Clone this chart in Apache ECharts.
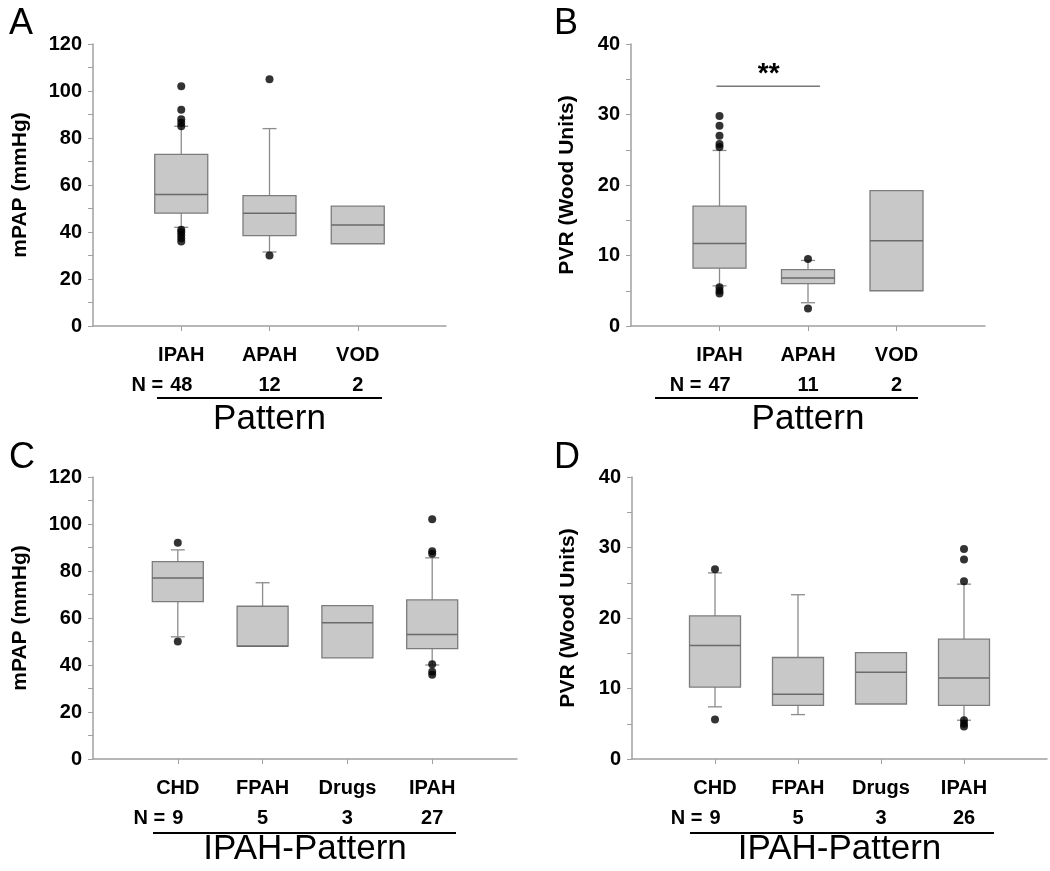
<!DOCTYPE html>
<html>
<head>
<meta charset="utf-8">
<script src="https://cdn.jsdelivr.net/npm/echarts@6/dist/echarts.min.js"></script>
<style>
  html, body { margin: 0; padding: 0; background: #fff; }
  #chart { width: 1050px; height: 871px; }
</style>
</head>
<body>
<div id="chart"></div>
<script>
// box values: [min, Q1, median, Q3, max]
// A: mPAP by pattern
const categoriesA = ['IPAH', 'APAH', 'VOD']
const countsA = [48, 12, 2]
const boxA = [
  [42, 48, 56, 73, 85],
  [31.5, 38.5, 48, 55.5, 84],
  [35, 35, 43, 51, 51]
]
const outliersA = [
  [102, 92, 88, 86.5, 85, 41, 40, 38.7, 37.3, 36],
  [105, 30],
  []
]

// B: PVR by pattern
const categoriesB = ['IPAH', 'APAH', 'VOD']
const countsB = [47, 11, 2]
const boxB = [
  [5.7, 8.2, 11.7, 17.0, 24.9],
  [3.3, 6.0, 6.8, 8.0, 9.3],
  [5.0, 5.0, 12.1, 19.2, 19.2]
]
const outliersB = [
  [29.8, 28.4, 27.0, 25.8, 25.4, 5.5, 5.0, 4.6],
  [9.5, 2.5],
  []
]
// significance bar between IPAH and APAH
const sigPairB = [1, 2]
const sigLevelB = 34
const sigLabelB = '**'

// C: mPAP by IPAH-pattern
const categoriesC = ['CHD', 'FPAH', 'Drugs', 'IPAH']
const countsC = [9, 5, 3, 27]
const boxC = [
  [52, 67, 77, 84, 89],
  [48, 48, 48, 65, 75],
  [43, 43, 58, 65.3, 65.3],
  [40, 47, 53, 67.7, 85.6]
]
const outliersC = [
  [92, 50],
  [],
  [],
  [102, 88.4, 87.3, 40.3, 37.1, 35.9]
]

// D: PVR by IPAH-pattern
const categoriesD = ['CHD', 'FPAH', 'Drugs', 'IPAH']
const countsD = [9, 5, 3, 26]
const boxD = [
  [7.4, 10.2, 16.1, 20.3, 26.4],
  [6.3, 7.6, 9.2, 14.4, 23.3],
  [7.8, 7.8, 12.3, 15.1, 15.1],
  [5.5, 7.6, 11.5, 17.0, 24.8]
]
const outliersD = [
  [26.9, 5.6],
  [],
  [],
  [29.8, 28.3, 25.2, 5.5, 5.0, 4.6]
]

const FONT = '"Liberation Sans", Arial, sans-serif'
const axisGrey = '#a0a0a0'

const chart = echarts.init(document.getElementById('chart'))

const grids = [
  { left: 93, top: 44, width: 353, height: 282 },
  { left: 631, top: 44, width: 354, height: 282 },
  { left: 93, top: 477, width: 424, height: 282 },
  { left: 632, top: 477, width: 424, height: 282 }
]

const panels = [
  { cats: categoriesA, counts: countsA, boxes: boxA, outs: outliersA, yMax: 120, yStep: 20, yName: 'mPAP (mmHg)', xName: 'Pattern', boxW: 53, yGap: 62 },
  { cats: categoriesB, counts: countsB, boxes: boxB, outs: outliersB, yMax: 40, yStep: 10, yName: 'PVR (Wood Units)', xName: 'Pattern', boxW: 53, yGap: 53 },
  { cats: categoriesC, counts: countsC, boxes: boxC, outs: outliersC, yMax: 120, yStep: 20, yName: 'mPAP (mmHg)', xName: 'IPAH-Pattern', boxW: 51, yGap: 62 },
  { cats: categoriesD, counts: countsD, boxes: boxD, outs: outliersD, yMax: 40, yStep: 10, yName: 'PVR (Wood Units)', xName: 'IPAH-Pattern', boxW: 51, yGap: 53 }
]

const xAxes = []
const yAxes = []
const series = []

panels.forEach((p, g) => {
  // padding categories at both ends so the axis runs past the boxes
  const axisCats = [' ', ...p.cats, '  ']
  const last = axisCats.length - 1
  xAxes.push({
    type: 'category',
    gridIndex: g,
    data: axisCats,
    boundaryGap: false,
    axisLine: { lineStyle: { color: axisGrey, width: 1.5 } },
    axisTick: { length: 5, lineStyle: { color: axisGrey }, interval: (i) => i > 0 && i < last },
    axisLabel: {
      interval: 0,
      margin: 14,
      formatter: (value, index) => {
        if (index === 0 || index === last) return ''
        const i = index - 1
        const n = i === 0
          ? '{pre|N = }{num|' + p.counts[i] + '}{post|}'
          : '{num|' + p.counts[i] + '}'
        return '{cat|' + value + '}\n' + n
      },
      rich: {
        cat: { fontFamily: FONT, fontWeight: 'bold', fontSize: 20, color: '#000', lineHeight: 30 },
        num: { fontFamily: FONT, fontWeight: 'bold', fontSize: 20, color: '#000', lineHeight: 30 },
        pre: { fontFamily: FONT, fontWeight: 'bold', fontSize: 20, color: '#000', lineHeight: 30, width: 40, align: 'right' },
        post: { width: 40, lineHeight: 30 }
      }
    },
    name: p.xName,
    nameLocation: 'middle',
    nameGap: g < 2 ? 76 : 73,
    nameTextStyle: { fontFamily: FONT, fontSize: 35, color: '#000' },
    splitLine: { show: false }
  })
  yAxes.push({
    type: 'value',
    gridIndex: g,
    min: 0,
    max: p.yMax,
    interval: p.yStep / 2,
    axisLine: { show: true, lineStyle: { color: axisGrey, width: 1.5 } },
    axisTick: { show: true, length: 5, lineStyle: { color: axisGrey } },
    axisLabel: {
      margin: 11,
      fontFamily: FONT,
      fontWeight: 'bold',
      fontSize: 20,
      color: '#000',
      formatter: (v) => (v % p.yStep === 0 ? String(v) : '')
    },
    name: p.yName,
    nameLocation: 'middle',
    nameRotate: 90,
    nameGap: p.yGap,
    nameTextStyle: { fontFamily: FONT, fontSize: 21, fontWeight: 'bold', color: '#000' },
    splitLine: { show: false }
  })

  const half = p.boxW / 2
  series.push({
    type: 'custom',
    xAxisIndex: g,
    yAxisIndex: g,
    encode: { x: 0, y: [1, 2, 3, 4, 5] },
    data: p.boxes.map((b, i) => [i + 1, ...b]),
    renderItem: (params, api) => {
      const x = api.value(0)
      const pMin = api.coord([x, api.value(1)])
      const pQ1 = api.coord([x, api.value(2)])
      const pMed = api.coord([x, api.value(3)])
      const pQ3 = api.coord([x, api.value(4)])
      const pMax = api.coord([x, api.value(5)])
      const cx = pMed[0]
      const children = []
      const whisker = { stroke: '#8c8c8c', lineWidth: 1.3 }
      if (api.value(5) > api.value(4)) {
        children.push({ type: 'line', shape: { x1: cx, y1: pQ3[1], x2: cx, y2: pMax[1] }, style: whisker })
        children.push({ type: 'line', shape: { x1: cx - 7, y1: pMax[1], x2: cx + 7, y2: pMax[1] }, style: whisker })
      }
      if (api.value(1) < api.value(2)) {
        children.push({ type: 'line', shape: { x1: cx, y1: pQ1[1], x2: cx, y2: pMin[1] }, style: whisker })
        children.push({ type: 'line', shape: { x1: cx - 7, y1: pMin[1], x2: cx + 7, y2: pMin[1] }, style: whisker })
      }
      children.push({
        type: 'rect',
        shape: { x: cx - half, y: pQ3[1], width: p.boxW, height: pQ1[1] - pQ3[1] },
        style: { fill: '#c8c8c8', stroke: '#7c7c7c', lineWidth: 1.3 }
      })
      children.push({
        type: 'line',
        shape: { x1: cx - half, y1: pMed[1], x2: cx + half, y2: pMed[1] },
        style: { stroke: '#6a6a6a', lineWidth: 1.5 }
      })
      return { type: 'group', children }
    },
    z: 2
  })

  const pts = []
  p.outs.forEach((arr, i) => arr.forEach(v => pts.push([i + 1, v])))
  series.push({
    type: 'scatter',
    xAxisIndex: g,
    yAxisIndex: g,
    data: pts,
    symbol: 'circle',
    symbolSize: 8,
    itemStyle: { color: '#000' },
    z: 3
  })
})

// significance bar in panel B
series.push({
  type: 'custom',
  xAxisIndex: 1,
  yAxisIndex: 1,
  encode: { x: [0, 1], y: 2 },
  data: [[sigPairB[0], sigPairB[1], sigLevelB]],
  renderItem: (params, api) => {
    const a = api.coord([api.value(0), api.value(2)])
    const b = api.coord([api.value(1), api.value(2)])
    return {
      type: 'group',
      children: [
        { type: 'line', shape: { x1: a[0] - 3, y1: a[1], x2: b[0] + 12, y2: b[1] }, style: { stroke: '#777', lineWidth: 1.5 } },
        {
          type: 'text',
          style: {
            text: sigLabelB, x: (a[0] + b[0]) / 2 + 5, y: a[1] + 2,
            align: 'center', verticalAlign: 'bottom',
            font: 'bold 28px ' + FONT, fill: '#000'
          }
        }
      ]
    }
  },
  z: 4
})

const letterStyle = { font: '36px ' + FONT, fill: '#000' }
chart.setOption({
  animation: false,
  grid: grids,
  xAxis: xAxes,
  yAxis: yAxes,
  series,
  graphic: [
    { type: 'text', left: 9, top: 6, style: { text: 'A', ...letterStyle } },
    { type: 'text', left: 554, top: 6, style: { text: 'B', ...letterStyle } },
    { type: 'text', left: 9, top: 440, style: { text: 'C', ...letterStyle } },
    { type: 'text', left: 554, top: 440, style: { text: 'D', ...letterStyle } },
    { type: 'line', shape: { x1: 157, y1: 398, x2: 382, y2: 398 }, style: { stroke: '#000', lineWidth: 2 } },
    { type: 'line', shape: { x1: 655, y1: 398, x2: 918, y2: 398 }, style: { stroke: '#000', lineWidth: 2 } },
    { type: 'line', shape: { x1: 153, y1: 833, x2: 456, y2: 833 }, style: { stroke: '#000', lineWidth: 2 } },
    { type: 'line', shape: { x1: 690, y1: 833, x2: 994, y2: 833 }, style: { stroke: '#000', lineWidth: 2 } }
  ]
})
</script>
</body>
</html>
